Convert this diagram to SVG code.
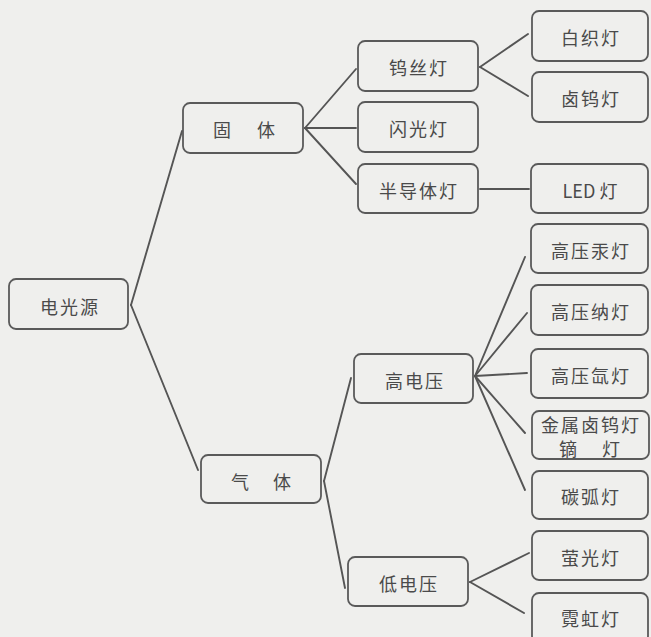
<svg xmlns="http://www.w3.org/2000/svg" width="651" height="637" viewBox="0 0 651 637">
<style>
.bg{fill:#efefed}
.box{fill:none;stroke:#5a5a5a;stroke-width:1.8}
.t{font-family:"Noto Sans CJK SC","Noto Sans",sans-serif;font-size:18px;fill:#4a4a4a;text-anchor:middle;dominant-baseline:central;letter-spacing:2px}
.s{font-family:"Noto Sans CJK SC","Noto Sans",sans-serif;font-size:18px;fill:#4a4a4a;text-anchor:middle;dominant-baseline:central}
#connectors line{stroke:#555;stroke-width:1.9;stroke-linecap:round}
</style>
<rect class="bg" x="0" y="0" width="651" height="637"/>
<g id="connectors">
<line x1="131" y1="305" x2="182" y2="131"/>
<line x1="131" y1="305" x2="198" y2="470"/>
<line x1="305" y1="128" x2="356" y2="69"/>
<line x1="305" y1="128" x2="356" y2="128"/>
<line x1="305" y1="128" x2="356" y2="184"/>
<line x1="480" y1="67" x2="528" y2="34"/>
<line x1="480" y1="67" x2="528" y2="96"/>
<line x1="480" y1="189" x2="529" y2="189"/>
<line x1="324" y1="481" x2="351" y2="378"/>
<line x1="324" y1="481" x2="345" y2="588"/>
<line x1="475" y1="376" x2="525" y2="257"/>
<line x1="475" y1="376" x2="527" y2="313"/>
<line x1="475" y1="376" x2="527" y2="373"/>
<line x1="475" y1="376" x2="525" y2="433"/>
<line x1="475" y1="376" x2="525" y2="490"/>
<line x1="470" y1="582" x2="529" y2="553"/>
<line x1="470" y1="582" x2="524" y2="613"/>
</g>
<g id="root"><rect class="box" x="9" y="279" width="119" height="50" rx="7"/><text class="t" x="70" y="306">电光源</text></g>
<g id="guti"><rect class="box" x="183" y="103" width="120" height="50" rx="7"/><text class="s" x="222" y="129">固</text><text class="s" x="266" y="129">体</text></g>
<g id="qiti"><rect class="box" x="201" y="455" width="120" height="48" rx="7"/><text class="s" x="240" y="481">气</text><text class="s" x="282" y="481">体</text></g>
<g id="wusideng"><rect class="box" x="358" y="41" width="120" height="50" rx="7"/><text class="t" x="419" y="67">钨丝灯</text></g>
<g id="shanguangdeng"><rect class="box" x="358" y="102" width="120" height="50" rx="7"/><text class="t" x="419" y="128">闪光灯</text></g>
<g id="bandaotideng"><rect class="box" x="358" y="164" width="120" height="49" rx="7"/><text class="t" x="419" y="190">半导体灯</text></g>
<g id="gaodianya"><rect class="box" x="354" y="354" width="119" height="49" rx="7"/><text class="t" x="415" y="380">高电压</text></g>
<g id="didianya"><rect class="box" x="348" y="557" width="120" height="49" rx="7"/><text class="t" x="409" y="583">低电压</text></g>
<g id="baizhideng"><rect class="box" x="532" y="11" width="116" height="50" rx="7"/><text class="t" x="591" y="37">白织灯</text></g>
<g id="luwudeng"><rect class="box" x="532" y="72" width="116" height="50" rx="7"/><text class="t" x="591" y="98">卤钨灯</text></g>
<g id="leddeng"><rect class="box" x="531" y="164" width="117" height="49" rx="7"/><text class="s" x="590" y="190">LED 灯</text></g>
<g id="gaoyagongdeng"><rect class="box" x="531" y="224" width="117" height="49" rx="7"/><text class="t" x="591" y="250">高压汞灯</text></g>
<g id="gaoyanadeng"><rect class="box" x="531" y="285" width="117" height="50" rx="7"/><text class="t" x="591" y="311">高压纳灯</text></g>
<g id="gaoyaxiandeng"><rect class="box" x="531" y="349" width="117" height="49" rx="7"/><text class="t" x="591" y="375">高压氙灯</text></g>
<g id="jinshuluwudeng"><rect class="box" x="532" y="411" width="117" height="48" rx="7"/><text class="t" x="591" y="424">金属卤钨灯</text><text class="s" x="568" y="448">镝</text><text class="s" x="611" y="448">灯</text></g>
<g id="tanhudeng"><rect class="box" x="532" y="471" width="116" height="48" rx="7"/><text class="t" x="591" y="496">碳弧灯</text></g>
<g id="yingguangdeng"><rect class="box" x="532" y="531" width="116" height="49" rx="7"/><text class="t" x="591" y="557">萤光灯</text></g>
<g id="nihongdeng"><rect class="box" x="532" y="593" width="116" height="50" rx="7"/><text class="t" x="591" y="618">霓虹灯</text></g>
</svg>
